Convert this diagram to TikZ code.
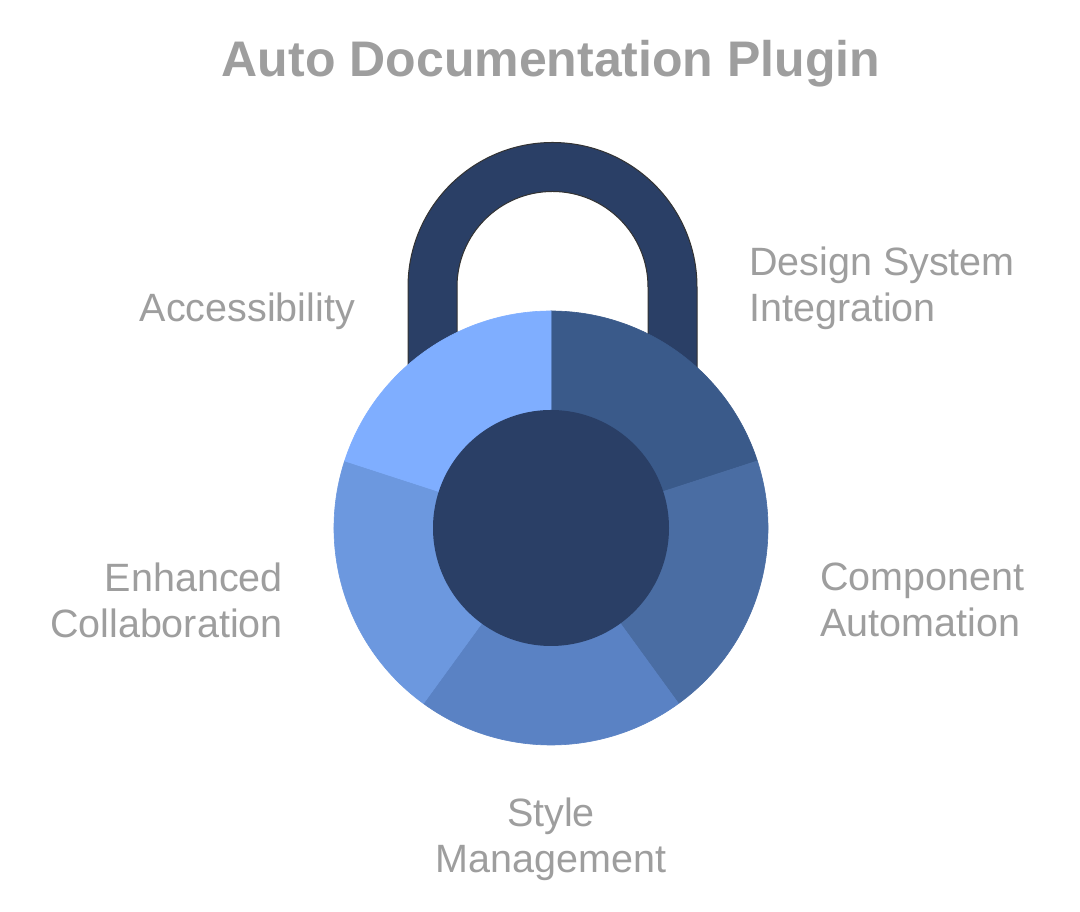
\documentclass[tikz,border=0pt]{standalone}
\usepackage{fontspec}
\setmainfont{Liberation Sans}
\definecolor{txt}{HTML}{9E9E9E}
\definecolor{shk}{HTML}{2A3F66}
\definecolor{sA}{HTML}{3A5A8A}
\definecolor{sB}{HTML}{4A6DA3}
\definecolor{sC}{HTML}{5A82C4}
\definecolor{sD}{HTML}{6C98DF}
\definecolor{sE}{HTML}{7FAEFF}
\begin{document}
\begin{tikzpicture}[x=1pt,y=1pt,
  lab/.style={text=txt,font=\fontsize{39.5}{46}\selectfont,inner sep=0pt},
  seg/.style={line width=0.6pt}]
\useasboundingbox (0,0) rectangle (1080,912);
\fill[white] (0,0) rectangle (1080,912);
\node[text=txt,font=\bfseries\fontsize{50}{54}\selectfont] (title) at (551,848) {Auto Documentation Plugin};
% shackle
\filldraw[fill=shk,draw=black!80,line width=1pt] (408,480) -- (408,625) arc(180:0:144.5) -- (697,480) -- (648,480) -- (648,625) arc(0:180:95.5) -- (457,480) -- cycle;
\coordinate (c) at (551,384);
\fill[sA,draw=sA,seg] (c) -- ++(90:217) arc(90:18:217) -- cycle;
\fill[sB,draw=sB,seg] (c) -- ++(18:217) arc(18:-54:217) -- cycle;
\fill[sC,draw=sC,seg] (c) -- ++(-54:217) arc(-54:-126:217) -- cycle;
\fill[sD,draw=sD,seg] (c) -- ++(-126:217) arc(-126:-198:217) -- cycle;
\fill[sE,draw=sE,seg] (c) -- ++(162:217) arc(162:90:217) -- cycle;
\fill[shk] (c) circle (118);
\node[lab,anchor=east] (acc) at (355,601) {Accessibility};
\node[lab,anchor=west,align=left] (dsi) at (749,624) {Design System\\Integration};
\node[lab,anchor=east,align=right] (enh) at (283,312) {Enhanced\\Collaboration};
\node[lab,anchor=west,align=left] (comp) at (820,312) {Component\\Automation};
\node[lab,align=center] (style) at (551,73) {Style\\Management};
\end{tikzpicture}
\end{document}
